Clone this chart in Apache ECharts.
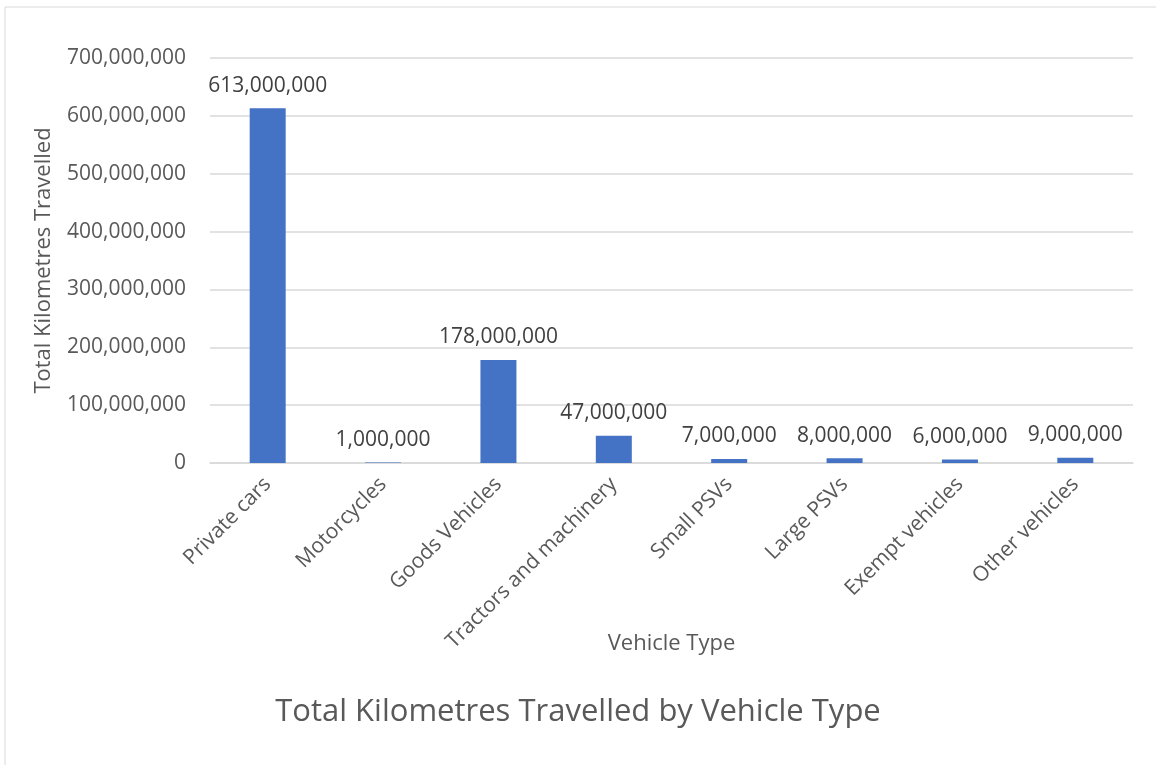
<!DOCTYPE html>
<html>
<head>
<meta charset="utf-8">
<script src="https://cdn.jsdelivr.net/npm/echarts@6/dist/echarts.min.js"></script>
<style>
  html, body { margin: 0; padding: 0; background: #fff; }
  #chart { width: 1156px; height: 765px; }
</style>
</head>
<body>
<div id="chart"></div>
<script>
let myChart = echarts.init(document.getElementById('chart'));

// data
const vehicleTypes = ['Private cars', 'Motorcycles', 'Goods Vehicles', 'Tractors and machinery',
  'Small PSVs', 'Large PSVs', 'Exempt vehicles', 'Other vehicles'];
const kmTravelled = [613000000, 1000000, 178000000, 47000000, 7000000, 8000000, 6000000, 9000000];

const fmt = v => Number(v).toLocaleString('en-US');
const font = '"Open Sans", sans-serif';

option = {
  animation: false,
  title: {
    text: 'Total Kilometres Travelled by Vehicle Type',
    left: 'center',
    top: 692,
    textStyle: { color: '#595959', fontSize: 31, fontWeight: 'normal', fontFamily: font }
  },
  graphic: [{
    type: 'rect',
    shape: { x: 5, y: 7, width: 1200, height: 800 },
    style: { fill: 'none', stroke: '#d9d9d9', lineWidth: 1 },
    silent: true
  }],
  grid: { left: 210, right: 23, top: 58, bottom: 302 },
  xAxis: {
    type: 'category',
    data: vehicleTypes,
    name: 'Vehicle Type',
    nameLocation: 'middle',
    nameGap: 170,
    nameMoveOverlap: false,
    nameTextStyle: { color: '#595959', fontSize: 22, fontFamily: font },
    axisTick: { show: false },
    axisLine: { lineStyle: { color: '#d9d9d9', width: 1.5 } },
    axisLabel: { rotate: 45, color: '#595959', fontSize: 21, fontFamily: font, margin: 18 }
  },
  yAxis: {
    type: 'value',
    min: 0,
    max: 700000000,
    interval: 100000000,
    name: 'Total Kilometres Travelled',
    nameLocation: 'middle',
    nameGap: 155,
    nameMoveOverlap: false,
    nameTextStyle: { color: '#595959', fontSize: 22, fontFamily: font },
    axisLabel: { color: '#595959', fontSize: 21, fontFamily: font, margin: 24, formatter: fmt },
    splitLine: { lineStyle: { color: '#d9d9d9', width: 1.5 } }
  },
  series: [{
    type: 'bar',
    data: kmTravelled,
    barWidth: 36,
    itemStyle: { color: '#4472c4' },
    label: {
      show: true,
      position: 'top',
      distance: 12,
      color: '#404040',
      fontSize: 21,
      fontFamily: font,
      formatter: p => fmt(p.value)
    }
  }]
};

myChart.setOption(option);
</script>
</body>
</html>
